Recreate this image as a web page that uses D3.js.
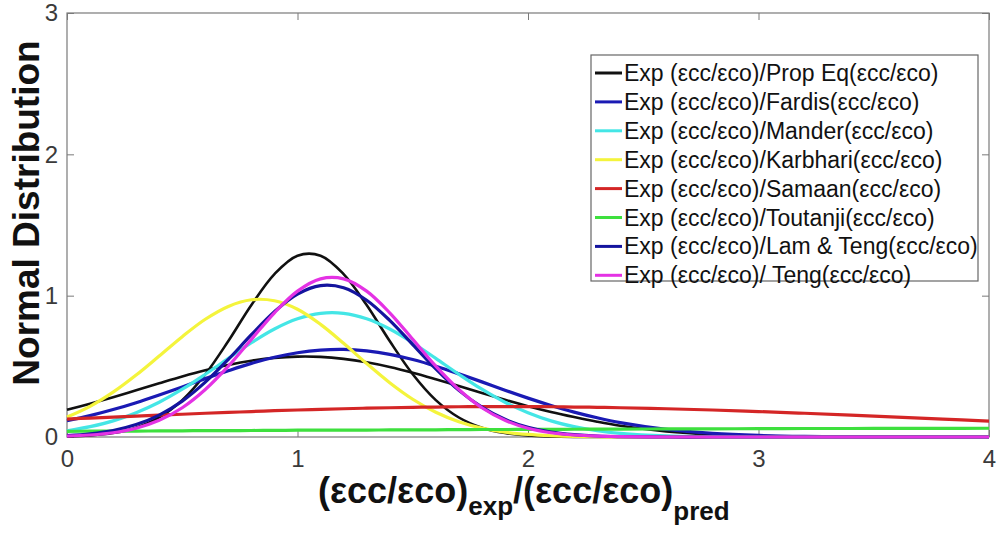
<!DOCTYPE html>
<html>
<head>
<meta charset="utf-8">
<script src="https://cdn.jsdelivr.net/npm/d3@7"></script>
<style>
  body { margin: 0; background: #fff; }
  svg { font-family: "Liberation Sans", Arial, sans-serif; }
</style>
</head>
<body>
<svg id="chart" width="1003" height="541"></svg>
<script>
// ratio values the curves were read at
const xs = [0, 0.1, 0.2, 0.3, 0.4, 0.5, 0.6, 0.7, 0.8, 0.9, 1.0, 1.1, 1.2, 1.3, 1.4, 1.5, 1.6, 1.7, 1.8, 1.9, 2.0,
  2.1, 2.2, 2.3, 2.4, 2.6, 2.8, 3.0, 3.2, 3.4, 3.6, 3.8, 4.0];

// normal distribution values
const propEq = [0.004, 0.011, 0.028, 0.066, 0.138, 0.261, 0.444, 0.679, 0.934, 1.153, 1.283, 1.283, 1.153, 0.934,
  0.679, 0.444, 0.261, 0.138, 0.066, 0.028, 0.011, 0.004, 0.001, 0, 0, 0, 0, 0, 0, 0, 0, 0, 0];
const extraBlack = [0.193, 0.236, 0.282, 0.331, 0.380, 0.428, 0.472, 0.510, 0.540, 0.560, 0.569, 0.567, 0.553, 0.529,
  0.496, 0.455, 0.409, 0.361, 0.311, 0.263, 0.218, 0.177, 0.141, 0.108, 0.080, 0.040, 0.018, 0.007, 0.003, 0.001, 0, 0, 0];
const fardis = [0.115, 0.151, 0.194, 0.243, 0.297, 0.354, 0.413, 0.469, 0.521, 0.564, 0.596, 0.615, 0.620, 0.609,
  0.585, 0.548, 0.501, 0.447, 0.390, 0.331, 0.275, 0.223, 0.176, 0.136, 0.102, 0.054, 0.026, 0.011, 0.004, 0.002, 0.001, 0, 0];
const mander = [0.044, 0.073, 0.114, 0.172, 0.246, 0.338, 0.444, 0.556, 0.667, 0.764, 0.836, 0.875, 0.875, 0.836,
  0.764, 0.667, 0.556, 0.444, 0.338, 0.246, 0.172, 0.114, 0.073, 0.044, 0.026, 0.008, 0.002, 0, 0, 0, 0, 0, 0];
const karbhari = [0.141, 0.217, 0.317, 0.438, 0.573, 0.710, 0.833, 0.924, 0.971, 0.964, 0.904, 0.797, 0.663, 0.520,
  0.384, 0.267, 0.175, 0.108, 0.063, 0.034, 0.018, 0.009, 0.004, 0.002, 0.001, 0, 0, 0, 0, 0, 0, 0, 0];
const samaan = [0.127, 0.134, 0.141, 0.148, 0.155, 0.161, 0.168, 0.174, 0.180, 0.186, 0.191, 0.196, 0.200, 0.204,
  0.207, 0.210, 0.212, 0.214, 0.215, 0.215, 0.215, 0.214, 0.212, 0.210, 0.207, 0.200, 0.191, 0.180, 0.168, 0.155, 0.141, 0.127, 0.113];
const toutanji = [0.040, 0.041, 0.042, 0.042, 0.043, 0.044, 0.045, 0.045, 0.046, 0.047, 0.048, 0.048, 0.049, 0.049,
  0.050, 0.051, 0.051, 0.052, 0.053, 0.053, 0.054, 0.054, 0.055, 0.056, 0.056, 0.057, 0.058, 0.059, 0.060, 0.060, 0.061, 0.061, 0.062];
const lamTeng = [0.010, 0.023, 0.046, 0.088, 0.155, 0.254, 0.388, 0.549, 0.724, 0.887, 1.011, 1.071, 1.056, 0.968,
  0.825, 0.654, 0.482, 0.330, 0.211, 0.125, 0.069, 0.035, 0.017, 0.007, 0.003, 0, 0, 0, 0, 0, 0, 0, 0];
const teng = [0.006, 0.014, 0.030, 0.062, 0.118, 0.207, 0.336, 0.501, 0.691, 0.879, 1.032, 1.119, 1.119, 1.032,
  0.879, 0.691, 0.501, 0.336, 0.207, 0.118, 0.062, 0.030, 0.014, 0.006, 0.002, 0, 0, 0, 0, 0, 0, 0, 0];

const legendLabels = [
  "Exp (εcc/εco)/Prop Eq(εcc/εco)",
  "Exp (εcc/εco)/Fardis(εcc/εco)",
  "Exp (εcc/εco)/Mander(εcc/εco)",
  "Exp (εcc/εco)/Karbhari(εcc/εco)",
  "Exp (εcc/εco)/Samaan(εcc/εco)",
  "Exp (εcc/εco)/Toutanji(εcc/εco)",
  "Exp (εcc/εco)/Lam & Teng(εcc/εco)",
  "Exp (εcc/εco)/ Teng(εcc/εco)"
];
const xTicks = [0, 1, 2, 3, 4];
const yTicks = [0, 1, 2, 3];

// legend index -1 = curve with no legend entry
const series = [
  { values: extraBlack, color: "#111111", legend: -1 },
  { values: propEq, color: "#111111", legend: 0 },
  { values: fardis, color: "#1a1ab4", legend: 1 },
  { values: mander, color: "#44e6e6", legend: 2 },
  { values: karbhari, color: "#f4f43c", legend: 3 },
  { values: samaan, color: "#d42626", legend: 4 },
  { values: toutanji, color: "#3ee03e", legend: 5 },
  { values: lamTeng, color: "#14149e", legend: 6 },
  { values: teng, color: "#e432e4", legend: 7 }
];

const svg = d3.select("#chart");
const plotLeft = 67, plotRight = 989, plotTop = 13, plotBottom = 437;

const x = d3.scaleLinear().domain([0, 4]).range([plotLeft, plotRight]);
const y = d3.scaleLinear().domain([0, 3]).range([plotBottom, plotTop]);

const axisColor = "#7a7a7a";
const labelColor = "#3a3a3a";

// inward ticks on all four sides, MATLAB style
const styleAxis = g => {
  g.select(".domain").remove();
  g.selectAll(".tick line").attr("stroke", axisColor);
  g.selectAll(".tick text").attr("fill", labelColor).attr("font-size", 24);
};

svg.append("g")
  .attr("transform", `translate(0,${plotBottom})`)
  .call(d3.axisBottom(x).tickValues(xTicks).tickSizeInner(-7).tickSizeOuter(0).tickPadding(13).tickFormat(d3.format("d")))
  .call(styleAxis);
svg.append("g")
  .attr("transform", `translate(0,${plotTop})`)
  .call(d3.axisTop(x).tickValues(xTicks).tickSizeInner(-7).tickSizeOuter(0).tickFormat(""))
  .call(styleAxis);
svg.append("g")
  .attr("transform", `translate(${plotLeft},0)`)
  .call(d3.axisLeft(y).tickValues(yTicks).tickSizeInner(-7).tickSizeOuter(0).tickPadding(9).tickFormat(d3.format("d")))
  .call(styleAxis);
svg.append("g")
  .attr("transform", `translate(${plotRight},0)`)
  .call(d3.axisRight(y).tickValues(yTicks).tickSizeInner(-7).tickSizeOuter(0).tickFormat(""))
  .call(styleAxis);

svg.append("rect")
  .attr("x", plotLeft).attr("y", plotTop)
  .attr("width", plotRight - plotLeft).attr("height", plotBottom - plotTop)
  .attr("fill", "none").attr("stroke", axisColor).attr("stroke-width", 1.2);

const line = d3.line()
  .x((d, i) => x(xs[i]))
  .y(d => y(d))
  .curve(d3.curveCatmullRom.alpha(0.5));

svg.append("g")
  .selectAll("path")
  .data(series)
  .enter()
  .append("path")
  .attr("d", d => line(d.values))
  .attr("fill", "none")
  .attr("stroke", d => d.color)
  .attr("stroke-width", d => d.color === "#111111" ? 2.6 : 3.2)
  .attr("stroke-linejoin", "round");

// legend
const legend = svg.append("g").attr("transform", "translate(591,55)");
legend.append("rect")
  .attr("width", 387).attr("height", 226)
  .attr("fill", "#fff").attr("stroke", "#666").attr("stroke-width", 1.2);

const entries = series.filter(d => d.legend >= 0).sort((a, b) => a.legend - b.legend);
const row = legend.selectAll(".entry")
  .data(entries)
  .enter()
  .append("g")
  .attr("class", "entry")
  .attr("transform", (d, i) => `translate(0,${18 + i * 28.9})`);
row.append("line")
  .attr("x1", 4).attr("x2", 31)
  .attr("stroke", d => d.color).attr("stroke-width", 3);
row.append("text")
  .attr("x", 33).attr("y", 8)
  .attr("font-size", 23).attr("fill", "#111")
  .text(d => legendLabels[d.legend]);

// axis titles
svg.append("text")
  .attr("transform", "translate(39,213) rotate(-90)")
  .attr("text-anchor", "middle")
  .attr("font-size", 37).attr("font-weight", "bold").attr("fill", "#111")
  .text("Normal Distribution");

const xTitle = svg.append("text")
  .attr("x", 318).attr("y", 503)
  .attr("font-weight", "bold").attr("fill", "#111");
xTitle.append("tspan").attr("font-size", 36).text("(εcc/εco)");
xTitle.append("tspan").attr("font-size", 26).attr("dy", 12).text("exp");
xTitle.append("tspan").attr("font-size", 36).attr("dy", -12).text("/(εcc/εco)");
xTitle.append("tspan").attr("font-size", 26).attr("dy", 17).text("pred");
</script>
</body>
</html>
